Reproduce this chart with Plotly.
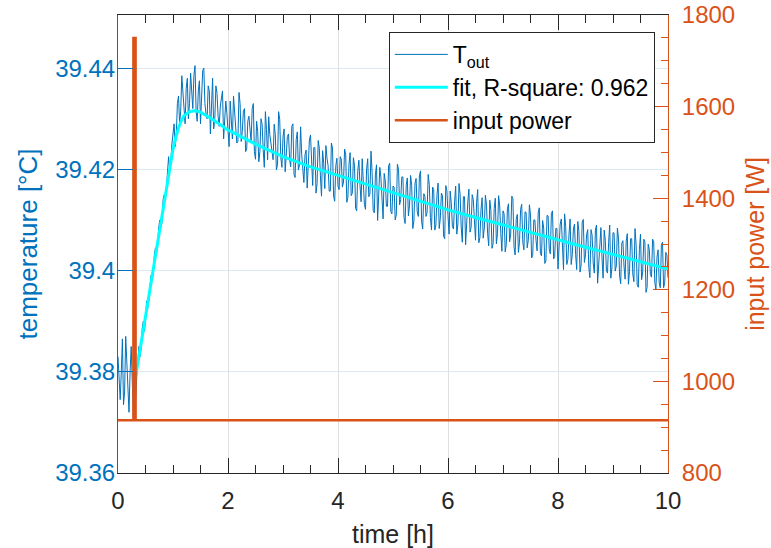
import plotly.graph_objects as go

# ---------------- data ----------------
# measured outlet temperature: samples at t = 0, 0.04, 0.08, ... 10 h
t_start = 0.0
t_step = 0.02  # spacing of the merged sample series below
T_out_even = [
    # 0.00 - 0.28
    39.3830, 39.3745, 39.3865, 39.3760, 39.3815, 39.3720, 39.3850, 39.3715,
    # 0.32 - 0.88
    39.3740, 39.3835, 39.3830, 39.3885, 39.3880, 39.3940, 39.3940, 39.3990,
    39.3995, 39.4045, 39.4050, 39.4100, 39.4095, 39.4150, 39.4160,
    # 0.92 - 2.00
    39.4225, 39.4215, 39.4270, 39.4245, 39.4330, 39.4290, 39.4385, 39.4310,
    39.4360, 39.4300, 39.4390, 39.4320, 39.4405, 39.4295, 39.4375, 39.4340,
    39.4400, 39.4310, 39.4365, 39.4270, 39.4380, 39.4300, 39.4350, 39.4285,
    39.4340, 39.4260, 39.4335, 39.4275,
    # 2.04 - 4.00
    39.4335, 39.4260, 39.4310, 39.4252, 39.4352,
    39.4255, 39.4315, 39.4235, 39.4295, 39.4270,
    39.4320, 39.4235, 39.4295, 39.4215, 39.4300,
    39.4239, 39.4314, 39.4219, 39.4269, 39.4229,
    39.4289, 39.4199, 39.4314, 39.4224, 39.4264,
    39.4195, 39.4265, 39.4220, 39.4285, 39.4190,
    39.4259, 39.4199, 39.4284, 39.4189, 39.4229,
    39.4163, 39.4258, 39.4193, 39.4243, 39.4153,
    39.4257, 39.4187, 39.4237, 39.4162, 39.4222,
    39.4157, 39.4252, 39.4147, 39.4207, 39.4167,
    # 4.04 - 6.00
    39.4225, 39.4165, 39.4240, 39.4135, 39.4210,
    39.4148, 39.4223, 39.4123, 39.4198, 39.4168,
    39.4221, 39.4131, 39.4201, 39.4146, 39.4236,
    39.4119, 39.4189, 39.4099, 39.4204, 39.4149,
    39.4192, 39.4127, 39.4207, 39.4117, 39.4167,
    39.4100, 39.4210, 39.4130, 39.4185, 39.4105,
    39.4168, 39.4108, 39.4188, 39.4083, 39.4173,
    39.4117, 39.4187, 39.4097, 39.4152, 39.4107,
    39.4190, 39.4105, 39.4165, 39.4080, 39.4150,
    39.4083, 39.4153, 39.4068, 39.4168, 39.4108,
    # 6.04 - 8.00
    39.4157, 39.4087, 39.4137, 39.4072, 39.4172,
    39.4086, 39.4146, 39.4051, 39.4136, 39.4076,
    39.4150, 39.4085, 39.4135, 39.4055, 39.4120,
    39.4064, 39.4149, 39.4074, 39.4139, 39.4044,
    39.4123, 39.4053, 39.4148, 39.4073, 39.4118,
    39.4037, 39.4122, 39.4057, 39.4147, 39.4047,
    39.4101, 39.4036, 39.4121, 39.4056, 39.4116,
    39.4045, 39.4130, 39.4025, 39.4100, 39.4060,
    39.4114, 39.4034, 39.4099, 39.4014, 39.4109,
    39.4043, 39.4113, 39.4023, 39.4083, 39.4003,
    # 8.04 - 10.00
    39.4092, 39.4032, 39.4112, 39.4012, 39.4072,
    39.4012, 39.4082, 39.4032, 39.4097, 39.3997,
    39.4096, 39.4016, 39.4071, 39.4006, 39.4081,
    39.4015, 39.4080, 39.3975, 39.4070, 39.4025,
    39.4080, 39.4000, 39.4055, 39.3985, 39.4075,
    39.3999, 39.4084, 39.3989, 39.4054, 39.4009,
    39.4058, 39.3973, 39.4063, 39.3993, 39.4083,
    39.3972, 39.4042, 39.3982, 39.4062, 39.3957,
    39.4052, 39.3992, 39.4062, 39.3977, 39.4027,
    39.3976, 39.4051, 39.3966, 39.4036, 39.3986,
]

# samples in between: t = 0.02, 0.06, ... 9.98 h
T_out_odd = [
    # 0.02 - 0.30
    39.3785, 39.3800, 39.3735, 39.3870, 39.3750, 39.3800, 39.3780, 39.3760,
    # 0.34 - 0.90
    39.3790, 39.3850, 39.3845, 39.3900, 39.3900, 39.3925, 39.3975, 39.3980,
    39.4030, 39.4035, 39.4085, 39.4085, 39.4140, 39.4140, 39.4195,
    # 0.94 - 1.98
    39.4200, 39.4250, 39.4290, 39.4270, 39.4345, 39.4315, 39.4350, 39.4290,
    39.4380, 39.4330, 39.4350, 39.4385, 39.4315, 39.4355, 39.4290, 39.4395,
    39.4330, 39.4300, 39.4355, 39.4320, 39.4280, 39.4365, 39.4305, 39.4325,
    39.4355, 39.4290, 39.4310,
    # 2.02 - 3.98
    39.4245, 39.4295, 39.4345, 39.4280, 39.4255,
    39.4330, 39.4275, 39.4320, 39.4240, 39.4305,
    39.4255, 39.4330, 39.4220, 39.4275, 39.4235,
    39.4289, 39.4204, 39.4279, 39.4304, 39.4249,
    39.4219, 39.4269, 39.4209, 39.4299, 39.4204,
    39.4280, 39.4225, 39.4270, 39.4205, 39.4290,
    39.4184, 39.4274, 39.4209, 39.4229, 39.4174,
    39.4238, 39.4203, 39.4268, 39.4168, 39.4243,
    39.4172, 39.4242, 39.4147, 39.4212, 39.4247,
    39.4207, 39.4157, 39.4242, 39.4137, 39.4222,
    # 4.02 - 5.98
    39.4160, 39.4220, 39.4175, 39.4230, 39.4145,
    39.4233, 39.4153, 39.4208, 39.4118, 39.4218,
    39.4136, 39.4181, 39.4121, 39.4221, 39.4151,
    39.4194, 39.4114, 39.4209, 39.4149, 39.4184,
    39.4102, 39.4177, 39.4127, 39.4212, 39.4112,
    39.4165, 39.4110, 39.4200, 39.4140, 39.4185,
    39.4093, 39.4183, 39.4128, 39.4168, 39.4098,
    39.4182, 39.4107, 39.4197, 39.4082, 39.4147,
    39.4115, 39.4170, 39.4080, 39.4160, 39.4090,
    39.4173, 39.4103, 39.4148, 39.4063, 39.4158,
    # 6.02 - 7.98
    39.4072, 39.4132, 39.4082, 39.4167, 39.4092,
    39.4151, 39.4056, 39.4146, 39.4101, 39.4161,
    39.4085, 39.4140, 39.4060, 39.4160, 39.4065,
    39.4144, 39.4084, 39.4129, 39.4049, 39.4119,
    39.4053, 39.4143, 39.4073, 39.4128, 39.4038,
    39.4112, 39.4052, 39.4132, 39.4072, 39.4142,
    39.4031, 39.4111, 39.4056, 39.4131, 39.4041,
    39.4115, 39.4060, 39.4110, 39.4030, 39.4100,
    39.4039, 39.4124, 39.4029, 39.4084, 39.4019,
    39.4108, 39.4033, 39.4118, 39.4028, 39.4083,
    # 8.02 - 9.98
    39.4042, 39.4102, 39.4002, 39.4087, 39.4022,
    39.4102, 39.4032, 39.4092, 39.4002, 39.4077,
    39.4011, 39.4101, 39.4031, 39.4081, 39.3986,
    39.4070, 39.3995, 39.4090, 39.4015, 39.4085,
    39.3985, 39.4060, 39.3995, 39.4090, 39.4005,
    39.4074, 39.4009, 39.4064, 39.3974, 39.4059,
    39.3983, 39.4073, 39.3998, 39.4063, 39.3978,
    39.4052, 39.3967, 39.4072, 39.3997, 39.4057,
    39.3967, 39.4042, 39.3987, 39.4057, 39.3962,
    39.4041, 39.3966, 39.4056, 39.3976, 39.4031,
]

# fitted model curve
fit_t = [0.32, 0.88, 0.92, 0.96, 1.00, 1.05, 1.10, 1.15, 1.20, 1.30, 1.40, 1.50,
         1.70, 2.00, 2.50, 3.00, 3.50, 4.00, 4.50, 5.00, 5.50, 6.00, 6.50,
         7.00, 7.50, 8.00, 8.50, 9.00, 9.50, 10.00]
fit_T = [39.3790, 39.4165, 39.4192, 39.4215, 39.4240, 39.4262, 39.4282, 39.4296,
         39.4306, 39.4314, 39.4316, 39.4313, 39.4300, 39.4278, 39.4250, 39.4225,
         39.4205, 39.4188, 39.4171, 39.4153, 39.4137, 39.4120, 39.4105, 39.4090,
         39.4075, 39.4060, 39.4046, 39.4032, 39.4017, 39.4003]

# input power
power_t = [0.0, 0.28, 0.28, 0.32, 0.32, 10.0]
power_W = [915, 915, 1750, 1750, 915, 915]

# axis ticks
x_ticks = [0, 2, 4, 6, 8, 10]
x_tick_labels = ["0", "2", "4", "6", "8", "10"]
y_ticks = [39.36, 39.38, 39.40, 39.42, 39.44]
y_tick_labels = ["39.36", "39.38", "39.4", "39.42", "39.44"]
y2_ticks = [800, 1000, 1200, 1400, 1600, 1800]
y2_tick_labels = ["800", "1000", "1200", "1400", "1600", "1800"]

legend_names = ["T<sub>out</sub>", "fit, R-square: 0.962", "input power"]

# merge the two sample lists in time order
T_out = []
for a, b in zip(T_out_even, T_out_odd):
    T_out.extend([a, b])
T_out.append(T_out_even[-1])

# ---------------- styling ----------------
BLUE = "#0072BD"
CYAN = "#00FFFF"
ORANGE = "#D95319"
DARK = "#262626"
FONT = "Liberation Sans, Arial, Helvetica, sans-serif"

fig = go.Figure()
fig.add_trace(go.Scatter(x0=t_start, dx=t_step, y=T_out, mode="lines",
                         line=dict(color=BLUE, width=1), name=legend_names[0]))
fig.add_trace(go.Scatter(x=fit_t, y=fit_T, mode="lines",
                         line=dict(color=CYAN, width=3), name=legend_names[1]))
fig.add_trace(go.Scatter(x=power_t, y=power_W, mode="lines", yaxis="y2",
                         line=dict(color=ORANGE, width=2.5), name=legend_names[2]))

fig.update_layout(
    width=771, height=548,
    margin=dict(l=118, r=103, t=15, b=75, autoexpand=False),
    paper_bgcolor="white", plot_bgcolor="white",
    font=dict(family=FONT, size=24, color=DARK),
    showlegend=True,
    legend=dict(x=0.976, xanchor="right", y=0.963, yanchor="top",
                bgcolor="white", bordercolor=DARK, borderwidth=1,
                font=dict(size=23, color="black"), itemwidth=53,
                tracegroupgap=0),
    xaxis=dict(range=[0, 10], tickvals=x_ticks, ticktext=x_tick_labels,
               automargin=False,
               showline=True, linecolor=DARK, linewidth=1, mirror="ticks",
               ticks="inside", ticklen=15, tickcolor=DARK, tickwidth=1,
               minor=dict(dtick=0.5, ticks="inside", ticklen=8, tickcolor=DARK,
                          showgrid=False),
               showgrid=True, gridcolor="#dfdfdf", gridwidth=1,
               zeroline=False, ticklabelstandoff=6,
               tickfont=dict(size=24, color=DARK),
               title=dict(text="time [h]", font=dict(size=25, color=DARK), standoff=12)),
    yaxis=dict(range=[39.36, 39.4505], tickvals=y_ticks, ticktext=y_tick_labels,
               automargin=False,
               showline=True, linecolor=BLUE, linewidth=1,
               ticks="inside", ticklen=15, tickcolor=BLUE,
               showgrid=True, gridcolor="#d9eaf5", gridwidth=1, zeroline=False,
               ticklabelstandoff=-3,
               tickfont=dict(size=24, color=BLUE),
               title=dict(text="temperature [°C]", font=dict(size=26, color=BLUE),
                          standoff=10)),
    yaxis2=dict(range=[800, 1800], tickvals=y2_ticks, ticktext=y2_tick_labels,
                overlaying="y", side="right", automargin=False,
                showline=True, linecolor=ORANGE, linewidth=1,
                ticks="inside", ticklen=15, tickcolor=ORANGE,
                minor=dict(dtick=50, ticks="inside", ticklen=7, tickcolor=ORANGE,
                           showgrid=False),
                showgrid=False, zeroline=False, ticklabelstandoff=8,
                tickfont=dict(size=24, color=ORANGE),
                title=dict(text="input power [W]", font=dict(size=25, color=ORANGE),
                           standoff=12)),
)

fig.write_html("out.html", config={"displayModeBar": False},
               post_script="document.body.style.margin='0px';")
